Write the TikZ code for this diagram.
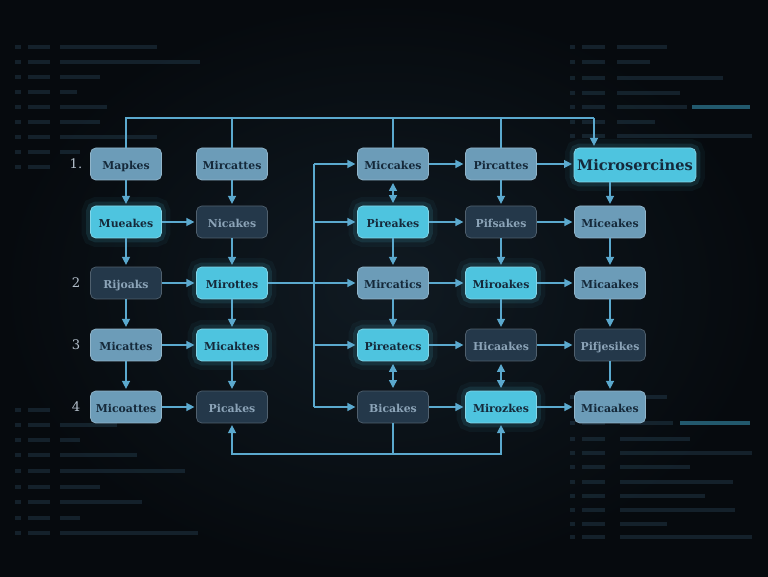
\documentclass[tikz,border=0pt]{standalone}
\usepackage{fontspec}
\setmainfont{DejaVu Serif}
\usetikzlibrary{arrows.meta}

\definecolor{bgdark}{HTML}{060A0E}
\definecolor{bgmid}{HTML}{101A22}
\definecolor{litfill}{HTML}{4EC4DF}
\definecolor{midfill}{HTML}{6C9CB8}
\definecolor{dimfill}{HTML}{24384A}
\definecolor{wire}{HTML}{5BA9CE}
\definecolor{inktext}{HTML}{15293A}
\definecolor{dimtext}{HTML}{8CA4B8}
\definecolor{codebar}{HTML}{2F4E63}
\definecolor{codelit}{HTML}{3FA8CC}
\definecolor{rowtext}{HTML}{B4C0CC}

\tikzset{
  box/.style={rounded corners=3pt, minimum width=1.42cm, minimum height=0.64cm,
    inner sep=1pt, text height=1.6ex, text depth=0.4ex,
    font=\fontsize{6.2}{7}\selectfont\bfseries},
  litbox/.style={box, fill=litfill, draw=litfill!70!white, line width=0.4pt, text=inktext,
    preaction={draw=litfill, line width=10pt, opacity=0.05},
    preaction={draw=litfill, line width=5pt, opacity=0.12}},
  midbox/.style={box, fill=midfill, draw=midfill!75!white, line width=0.4pt, text=inktext},
  dimbox/.style={box, fill=dimfill, draw=dimfill!80!white, line width=0.4pt, text=dimtext},
  rowlabel/.style={text=rowtext, font=\fontsize{7.5}{8}\selectfont},
  plain/.style={draw=wire, line width=0.8pt},
  arr/.style={plain, -{Triangle[length=4.5pt,width=4.5pt]}, shorten >=1pt},
  darr/.style={plain, {Triangle[length=4.5pt,width=4.5pt]}-{Triangle[length=4.5pt,width=4.5pt]},
    shorten >=1.5pt, shorten <=1.5pt},
  codeline/.style={draw=codebar, line width=2.8pt, opacity=0.35},
  codelitline/.style={draw=codelit, line width=2.8pt, opacity=0.5}
}

\begin{document}
\begin{tikzpicture}[x=0.02cm, y=-0.02cm]
  % Background
  \useasboundingbox (0,0) rectangle (768,577);
  \fill[bgdark] (0,0) rectangle (768,577);
  \shade[inner color=bgmid, outer color=bgdark] (0,0) rectangle (768,577);

  % Blurred code listing, top left
  \foreach \y/\e in {47/157, 62/200, 77/100, 92/77, 107/107, 122/100, 137/157, 152/80, 167/60} {
    \draw[codeline] (15,\y) -- (21,\y);
    \draw[codeline] (28,\y) -- (50,\y);
    \draw[codeline] (60,\y) -- (\e,\y);
  }
  % Blurred code listing, bottom left
  \foreach \y/\e in {410/60, 425/117, 440/80, 455/137, 471/185, 487/100, 502/142, 518/80, 533/198} {
    \draw[codeline] (15,\y) -- (21,\y);
    \draw[codeline] (28,\y) -- (50,\y);
    \draw[codeline] (60,\y) -- (\e,\y);
  }
  % Blurred code listing, top right
  \foreach \y/\e in {47/667, 62/650, 78/723, 93/680, 107/687, 122/655, 136/752} {
    \draw[codeline] (570,\y) -- (575,\y);
    \draw[codeline] (582,\y) -- (605,\y);
    \draw[codeline] (617,\y) -- (\e,\y);
  }
  \draw[codelitline] (692,107) -- (750,107);
  % Blurred code listing, bottom right
  \foreach \y/\e in {397/667, 423/673, 439/690, 453/752, 467/690, 482/733, 496/705, 510/735, 524/667, 537/752} {
    \draw[codeline] (570,\y) -- (575,\y);
    \draw[codeline] (582,\y) -- (605,\y);
    \draw[codeline] (620,\y) -- (\e,\y);
  }
  \draw[codelitline] (680,423) -- (750,423);

  % Row numbers
  \node[rowlabel] (r1) at (76,164) {1.};
  \node[rowlabel] (r2) at (76,283) {2};
  \node[rowlabel] (r3) at (76,345) {3};
  \node[rowlabel] (r4) at (76,407) {4};

  % Column 1
  \node[midbox] (mapkes)    at (126,164) {Mapkes};
  \node[litbox] (mueakes)   at (126,222) {Mueakes};
  \node[dimbox] (rijoaks)   at (126,283) {Rijoaks};
  \node[midbox] (micattes)  at (126,345) {Micattes};
  \node[midbox] (micoattes) at (126,407) {Micoattes};

  % Column 2
  \node[midbox] (mircattes) at (232,164) {Mircattes};
  \node[dimbox] (nicakes)   at (232,222) {Nicakes};
  \node[litbox] (mirottes)  at (232,283) {Mirottes};
  \node[litbox] (micaktes)  at (232,345) {Micaktes};
  \node[dimbox] (picakes)   at (232,407) {Picakes};

  % Column 3
  \node[midbox] (miccakes)  at (393,164) {Miccakes};
  \node[litbox] (pireakes)  at (393,222) {Pireakes};
  \node[midbox] (mircatics) at (393,283) {Mircatics};
  \node[litbox] (pireatecs) at (393,345) {Pireatecs};
  \node[dimbox] (bicakes)   at (393,407) {Bicakes};

  % Column 4
  \node[midbox] (pircattes) at (501,164) {Pircattes};
  \node[dimbox] (pifsakes)  at (501,222) {Pifsakes};
  \node[litbox] (miroakes)  at (501,283) {Miroakes};
  \node[dimbox] (hicaakes)  at (501,345) {Hicaakes};
  \node[litbox] (mirozkes)  at (501,407) {Mirozkes};

  % Column 5
  \node[litbox, minimum width=2.44cm, minimum height=0.68cm, font=\fontsize{8.3}{9}\selectfont\bfseries]
    (micro) at (635,165) {Microsercines};
  \node[midbox] (miceakes)   at (610,222) {Miceakes};
  \node[midbox] (micaakes)   at (610,283) {Micaakes};
  \node[dimbox] (pifjesikes) at (610,345) {Pifjesikes};
  \node[midbox] (micaakesb)  at (610,407) {Micaakes};

  % Top bus
  \coordinate (busR) at (594,118);
  \draw[plain] (mapkes.north) |- (busR);
  \draw[arr] (busR) -- (busR |- micro.north);
  \draw[plain] (mircattes.north) -- (mircattes.north |- busR);
  \draw[plain] (miccakes.north) -- (miccakes.north |- busR);
  \draw[plain] (pircattes.north) -- (pircattes.north |- busR);

  % Column 1 and 2 flow
  \draw[arr] (mapkes) -- (mueakes);
  \draw[arr] (mueakes) -- (rijoaks);
  \draw[arr] (rijoaks) -- (micattes);
  \draw[arr] (micattes) -- (micoattes);
  \draw[arr] (mircattes) -- (nicakes);
  \draw[arr] (nicakes) -- (mirottes);
  \draw[arr] (mirottes) -- (micaktes);
  \draw[arr] (micaktes) -- (picakes);
  \draw[arr] (mueakes) -- (nicakes);
  \draw[arr] (rijoaks) -- (mirottes);
  \draw[arr] (micattes) -- (micaktes);
  \draw[arr] (micoattes) -- (picakes);

  % Left bus into column 3
  \coordinate (busL) at (314,0);
  \draw[plain] (mirottes.east) -- (mirottes.east -| busL);
  \draw[plain] (miccakes.west -| busL) -- (bicakes.west -| busL);
  \foreach \n in {miccakes, pireakes, mircatics, pireatecs, bicakes}
    \draw[arr] (\n.west -| busL) -- (\n.west);

  % Column 3, 4 and 5 flow
  \draw[darr] (miccakes) -- (pireakes);
  \draw[arr] (pireakes) -- (mircatics);
  \draw[arr] (mircatics) -- (pireatecs);
  \draw[darr] (pireatecs) -- (bicakes);
  \draw[arr] (pircattes) -- (pifsakes);
  \draw[arr] (pifsakes) -- (miroakes);
  \draw[arr] (miroakes) -- (hicaakes);
  \draw[darr] (hicaakes) -- (mirozkes);
  \draw[arr] (micro.south -| miceakes) -- (miceakes);
  \draw[arr] (miceakes) -- (micaakes);
  \draw[arr] (micaakes) -- (pifjesikes);
  \draw[arr] (pifjesikes) -- (micaakesb);

  \draw[arr] (miccakes) -- (pircattes);
  \draw[arr] (pircattes.east) -- (pircattes.east -| micro.west);
  \draw[arr] (pireakes) -- (pifsakes);
  \draw[arr] (pifsakes) -- (miceakes);
  \draw[arr] (mircatics) -- (miroakes);
  \draw[arr] (miroakes) -- (micaakes);
  \draw[arr] (pireatecs) -- (hicaakes);
  \draw[arr] (hicaakes) -- (pifjesikes);
  \draw[arr] (bicakes) -- (mirozkes);
  \draw[arr] (mirozkes) -- (micaakesb);

  % Bottom bus
  \coordinate (busB) at (0,454);
  \draw[plain] (bicakes.south) -- (bicakes.south |- busB);
  \draw[arr] (bicakes.south |- busB) -| (picakes.south);
  \draw[arr] (bicakes.south |- busB) -| (mirozkes.south);
\end{tikzpicture}
\end{document}
